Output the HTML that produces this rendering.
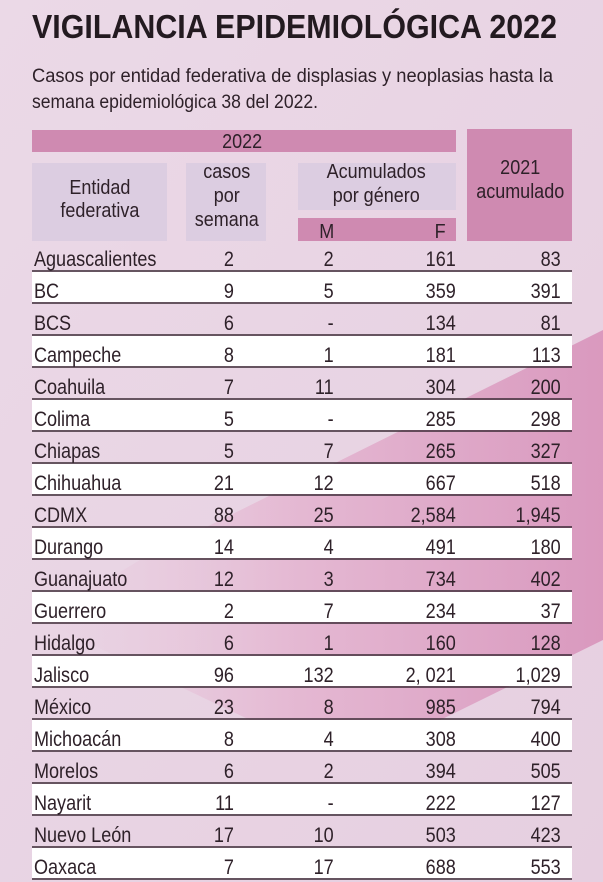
<!DOCTYPE html>
<html><head><meta charset="utf-8"><style>
html,body{margin:0;padding:0;width:603px;height:882px;overflow:hidden;background:#ead9e7}
svg{display:block}
text{font-family:"Liberation Sans",sans-serif;fill:#2e2129}
</style></head><body>
<svg width="603" height="882" viewBox="0 0 603 882" xmlns="http://www.w3.org/2000/svg">
<defs>
<linearGradient id="bg" x1="0" y1="0" x2="1" y2="1">
<stop offset="0" stop-color="#ebd9e7"/><stop offset="1" stop-color="#e6cfe0"/>
</linearGradient>
<linearGradient id="band" x1="0" y1="0" x2="1" y2="0">
<stop offset="0" stop-color="#e8c8dc" stop-opacity="0"/><stop offset="0.45" stop-color="#e4b4d0"/><stop offset="1" stop-color="#d78fb8"/>
</linearGradient>
</defs>
<rect width="603" height="882" fill="url(#bg)"/>
<polygon points="603,330 603,640 420,730 250,720 40,620 140,560" fill="url(#band)" opacity="0.85"/>

<text x="32" y="38" font-size="33" font-weight="bold" textLength="525" lengthAdjust="spacingAndGlyphs" style="fill:#231a20">VIGILANCIA EPIDEMIOLÓGICA 2022</text>
<text x="32" y="82" font-size="19" textLength="521" lengthAdjust="spacingAndGlyphs">Casos por entidad federativa de displasias y neoplasias hasta la</text>
<text x="32" y="108" font-size="19" textLength="286" lengthAdjust="spacingAndGlyphs">semana epidemiológica 38 del 2022.</text>

<rect x="32" y="130" width="424" height="22" fill="#cf8ab1"/>
<rect x="467" y="129" width="105" height="112" fill="#cf8ab1"/>
<rect x="32" y="163" width="135" height="78" fill="#dccde1"/>
<rect x="186" y="163" width="80" height="78" fill="#dccde1"/>
<rect x="298" y="163" width="158" height="47" fill="#dccde1"/>
<rect x="298" y="218" width="158" height="23" fill="#cf8ab1"/>

<g font-size="20" text-anchor="middle" transform="scale(0.9,1)">
<text x="269" y="148">2022</text>
<text x="111" y="194">Entidad</text>
<text x="111" y="217">federativa</text>
<text x="252" y="178">casos</text>
<text x="252" y="202">por</text>
<text x="252" y="226">semana</text>
<text x="418" y="178">Acumulados</text>
<text x="418" y="202">por género</text>
<text x="363" y="238">M</text>
<text x="489" y="238">F</text>
<text x="578" y="174">2021</text>
<text x="578" y="198">acumulado</text>
</g>

<g fill="#ffffff">
<rect x="32" y="272" width="540" height="30"/>
<rect x="32" y="336" width="540" height="30"/>
<rect x="32" y="400" width="540" height="30"/>
<rect x="32" y="464" width="540" height="30"/>
<rect x="32" y="528" width="540" height="30"/>
<rect x="32" y="592" width="540" height="30"/>
<rect x="32" y="656" width="540" height="30"/>
<rect x="32" y="720" width="540" height="30"/>
<rect x="32" y="784" width="540" height="30"/>
<rect x="32" y="848" width="540" height="30"/>
</g>
<g stroke="#3a2a35" stroke-width="1.5">
<line x1="32" x2="572" y1="271" y2="271"/><line x1="32" x2="572" y1="303" y2="303"/>
<line x1="32" x2="572" y1="335" y2="335"/><line x1="32" x2="572" y1="367" y2="367"/>
<line x1="32" x2="572" y1="399" y2="399"/><line x1="32" x2="572" y1="431" y2="431"/>
<line x1="32" x2="572" y1="463" y2="463"/><line x1="32" x2="572" y1="495" y2="495"/>
<line x1="32" x2="572" y1="527" y2="527"/><line x1="32" x2="572" y1="559" y2="559"/>
<line x1="32" x2="572" y1="591" y2="591"/><line x1="32" x2="572" y1="623" y2="623"/>
<line x1="32" x2="572" y1="655" y2="655"/><line x1="32" x2="572" y1="687" y2="687"/>
<line x1="32" x2="572" y1="719" y2="719"/><line x1="32" x2="572" y1="751" y2="751"/>
<line x1="32" x2="572" y1="783" y2="783"/><line x1="32" x2="572" y1="815" y2="815"/>
<line x1="32" x2="572" y1="847" y2="847"/><line x1="32" x2="572" y1="879" y2="879"/>
</g>

<g transform="scale(0.86,1)" font-size="21">
<g>
<text x="39.5" y="266">Aguascalientes</text>
<text x="39.5" y="298">BC</text>
<text x="39.5" y="330">BCS</text>
<text x="39.5" y="362">Campeche</text>
<text x="39.5" y="394">Coahuila</text>
<text x="39.5" y="426">Colima</text>
<text x="39.5" y="458">Chiapas</text>
<text x="39.5" y="490">Chihuahua</text>
<text x="39.5" y="522">CDMX</text>
<text x="39.5" y="554">Durango</text>
<text x="39.5" y="586">Guanajuato</text>
<text x="39.5" y="618">Guerrero</text>
<text x="39.5" y="650">Hidalgo</text>
<text x="39.5" y="682">Jalisco</text>
<text x="39.5" y="714">México</text>
<text x="39.5" y="746">Michoacán</text>
<text x="39.5" y="778">Morelos</text>
<text x="39.5" y="810">Nayarit</text>
<text x="39.5" y="842">Nuevo León</text>
<text x="39.5" y="874">Oaxaca</text>
</g>
<g text-anchor="end">
<text x="272" y="266">2</text><text x="388" y="266">2</text><text x="530" y="266">161</text><text x="652" y="266">83</text>
<text x="272" y="298">9</text><text x="388" y="298">5</text><text x="530" y="298">359</text><text x="652" y="298">391</text>
<text x="272" y="330">6</text><text x="388" y="330">-</text><text x="530" y="330">134</text><text x="652" y="330">81</text>
<text x="272" y="362">8</text><text x="388" y="362">1</text><text x="530" y="362">181</text><text x="652" y="362">113</text>
<text x="272" y="394">7</text><text x="388" y="394">11</text><text x="530" y="394">304</text><text x="652" y="394">200</text>
<text x="272" y="426">5</text><text x="388" y="426">-</text><text x="530" y="426">285</text><text x="652" y="426">298</text>
<text x="272" y="458">5</text><text x="388" y="458">7</text><text x="530" y="458">265</text><text x="652" y="458">327</text>
<text x="272" y="490">21</text><text x="388" y="490">12</text><text x="530" y="490">667</text><text x="652" y="490">518</text>
<text x="272" y="522">88</text><text x="388" y="522">25</text><text x="530" y="522">2,584</text><text x="652" y="522">1,945</text>
<text x="272" y="554">14</text><text x="388" y="554">4</text><text x="530" y="554">491</text><text x="652" y="554">180</text>
<text x="272" y="586">12</text><text x="388" y="586">3</text><text x="530" y="586">734</text><text x="652" y="586">402</text>
<text x="272" y="618">2</text><text x="388" y="618">7</text><text x="530" y="618">234</text><text x="652" y="618">37</text>
<text x="272" y="650">6</text><text x="388" y="650">1</text><text x="530" y="650">160</text><text x="652" y="650">128</text>
<text x="272" y="682">96</text><text x="388" y="682">132</text><text x="530" y="682">2, 021</text><text x="652" y="682">1,029</text>
<text x="272" y="714">23</text><text x="388" y="714">8</text><text x="530" y="714">985</text><text x="652" y="714">794</text>
<text x="272" y="746">8</text><text x="388" y="746">4</text><text x="530" y="746">308</text><text x="652" y="746">400</text>
<text x="272" y="778">6</text><text x="388" y="778">2</text><text x="530" y="778">394</text><text x="652" y="778">505</text>
<text x="272" y="810">11</text><text x="388" y="810">-</text><text x="530" y="810">222</text><text x="652" y="810">127</text>
<text x="272" y="842">17</text><text x="388" y="842">10</text><text x="530" y="842">503</text><text x="652" y="842">423</text>
<text x="272" y="874">7</text><text x="388" y="874">17</text><text x="530" y="874">688</text><text x="652" y="874">553</text>
</g>
</g>
</svg>
</body></html>
